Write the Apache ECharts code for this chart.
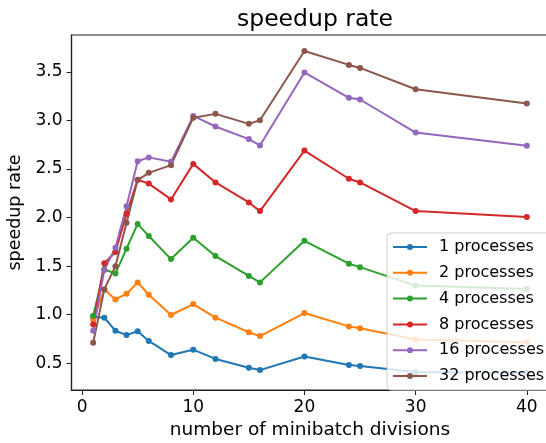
<!DOCTYPE html>
<html>
<head>
<meta charset="utf-8">
<script src="https://cdn.jsdelivr.net/npm/echarts@6/dist/echarts.min.js"></script>
<style>
  html, body { margin: 0; padding: 0; background: #fff; }
  #chart { width: 546px; height: 443px; }
</style>
</head>
<body>
<div id="chart"></div>
<script>
// Number of minibatch divisions tested
const divisions = [1, 2, 3, 4, 5, 6, 8, 10, 12, 15, 16, 20, 24, 25, 30, 40];

// Measured speedup rate for each process count
const proc1  = [0.98, 0.97, 0.835, 0.79, 0.83, 0.73, 0.585, 0.64, 0.545, 0.455, 0.43, 0.57, 0.483, 0.472, 0.41, 0.40];
const proc2  = [0.95, 1.26, 1.158, 1.216, 1.333, 1.206, 0.997, 1.11, 0.97, 0.82, 0.78, 1.017, 0.88, 0.86, 0.745, 0.716];
const proc4  = [0.99, 1.465, 1.424, 1.68, 1.935, 1.81, 1.573, 1.792, 1.604, 1.40, 1.333, 1.761, 1.525, 1.49, 1.30, 1.264];
const proc8  = [0.90, 1.53, 1.645, 2.04, 2.39, 2.35, 2.187, 2.553, 2.362, 2.156, 2.067, 2.69, 2.40, 2.362, 2.067, 2.005];
const proc16 = [0.835, 1.46, 1.69, 2.118, 2.58, 2.62, 2.574, 3.047, 2.938, 2.808, 2.743, 3.494, 3.233, 3.216, 2.876, 2.74];
const proc32 = [0.712, 1.261, 1.50, 1.946, 2.386, 2.461, 2.54, 3.027, 3.068, 2.965, 3.003, 3.716, 3.572, 3.541, 3.322, 3.175];

const seriesNames = ['1 processes', '2 processes', '4 processes', '8 processes', '16 processes', '32 processes'];
const seriesValues = [proc1, proc2, proc4, proc8, proc16, proc32];
const palette = ['#1f77b4', '#ff7f0e', '#2ca02c', '#d62728', '#9467bd', '#8c564b'];

// Tick positions
const xTicks = [0, 10, 20, 30, 40];
const yTicks = [0.5, 1.0, 1.5, 2.0, 2.5, 3.0, 3.5];

const FONT = 'DejaVu Sans';
const chart = echarts.init(document.getElementById('chart'), null, { renderer: 'canvas' });

const series = seriesNames.map((name, i) => ({
  name: name,
  type: 'line',
  data: divisions.map((d, j) => [d, seriesValues[i][j]]),
  symbol: 'circle',
  symbolSize: 6,
  showAllSymbol: true,
  lineStyle: { width: 2, color: palette[i] },
  itemStyle: { color: palette[i] },
  emphasis: { disabled: true },
  animation: false
}));

chart.setOption({
  animation: false,
  textStyle: { fontFamily: FONT },
  title: {
    text: 'speedup rate',
    left: 310,
    textAlign: 'center',
    top: 3,
    textStyle: { fontFamily: FONT, fontSize: 23.5, fontWeight: 'normal', color: '#000' }
  },
  grid: {
    left: 71.5,
    right: -2.5,
    top: 35,
    bottom: 53,
    show: true,
    borderColor: '#222',
    borderWidth: 1.2,
    backgroundColor: 'transparent',
    containLabel: false,
    outerBoundsMode: 'none'
  },
  legend: {
    orient: 'vertical',
    left: 387,
    top: 233,
    data: seriesNames,
    itemWidth: 34,
    itemHeight: 7.5,
    itemGap: 9.8,
    padding: [6, 30, 6, 5],
    backgroundColor: 'rgba(255,255,255,0.8)',
    borderColor: '#cccccc',
    borderWidth: 1,
    borderRadius: 4,
    textStyle: { fontFamily: FONT, fontSize: 16, color: '#000', lineHeight: 16, padding: [0, 0, 0, 7] }
  },
  xAxis: {
    type: 'value',
    min: -0.95,
    max: 41.95,
    name: 'number of minibatch divisions',
    nameLocation: 'middle',
    nameGap: 31,
    nameTextStyle: { fontFamily: FONT, fontSize: 18.5, color: '#000' },
    splitLine: { show: false },
    axisLine: { show: true, onZero: false, lineStyle: { color: '#222', width: 1.2 } },
    axisTick: { show: true, inside: false, length: 5, customValues: xTicks, lineStyle: { color: '#222' } },
    axisLabel: { customValues: xTicks, margin: 9, fontFamily: FONT, fontSize: 17, color: '#000' }
  },
  yAxis: {
    type: 'value',
    min: 0.225,
    max: 3.88,
    name: 'speedup rate',
    nameLocation: 'middle',
    nameGap: 46,
    nameTextStyle: { fontFamily: FONT, fontSize: 17.5, color: '#000' },
    splitLine: { show: false },
    axisLine: { show: true, onZero: false, lineStyle: { color: '#222', width: 1.2 } },
    axisTick: { show: true, inside: false, length: 5, customValues: yTicks, lineStyle: { color: '#222' } },
    axisLabel: {
      customValues: yTicks, margin: 9, fontFamily: FONT, fontSize: 17, color: '#000',
      formatter: v => v.toFixed(1)
    }
  },
  series: series
});
</script>
</body>
</html>
